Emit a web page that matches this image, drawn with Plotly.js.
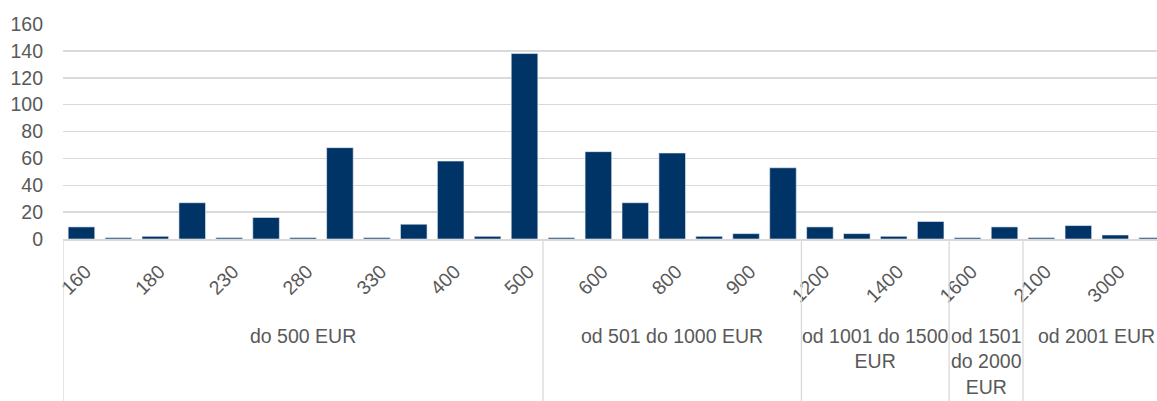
<!DOCTYPE html>
<html>
<head>
<meta charset="utf-8">
<script src="https://cdn.plot.ly/plotly-3.0.1.min.js"></script>
<style>html,body{margin:0;padding:0;background:#fff;}#chart{width:1157px;height:401px;}</style>
</head>
<body>
<div id="chart"></div>
<script>
// Categories (price levels in EUR); only every other label is printed on the axis
const priceLabels = ["160","170","180","200","230","250","280","300","330","350","400","450","500",
                     "550","600","700","800","850","900","1000",
                     "1200","1300","1400","1500",
                     "1600","2000",
                     "2100","2500","3000","5000"];
const counts = [9,1,2,27,1,16,1,68,1,11,58,2,138,
                1,65,27,64,2,4,53,
                9,4,2,13,
                1,9,
                1,10,3,1];
const groupNames = ["do 500 EUR","od 501 do 1000 EUR","od 1001 do 1500<br>EUR","od 1501<br>do 2000<br>EUR","od 2001 EUR"];
const groupSizes = [13,7,4,2,4];
const yTicks = [0,20,40,60,80,100,120,140,160];

const FONT = "Liberation Sans, Arial, sans-serif";
const TXT = "#595959";
const GRID = "#d9d9d9";

const shownTicks = priceLabels.filter((_, i) => i % 2 === 0);

const shapes = [];
const annotations = [];
let start = 0;
const bottomPaper = -162/215;
shapes.push({type:"line", xref:"x", yref:"paper", x0:-0.5, x1:-0.5, y0:0, y1:bottomPaper, line:{color:GRID, width:1.3}});
groupSizes.forEach((n, g) => {
  const end = start + n;
  shapes.push({type:"line", xref:"x", yref:"paper", x0:end-0.5, x1:end-0.5, y0:0, y1:bottomPaper, line:{color:GRID, width:1.3}});
  annotations.push({
    xref:"x", yref:"paper", x:(start+end-1)/2, y:(239-323)/215,
    xanchor:"center", yanchor:"top", showarrow:false,
    text:groupNames[g], font:{family:FONT, size:19.5, color:TXT}, align:"center"
  });
  start = end;
});

const trace = {
  type:"bar",
  x: priceLabels,
  y: counts,
  marker:{color:"#003366", line:{color:"#e8eef5", width:0.6}},
  hoverinfo:"x+y"
};

const layout = {
  width:1157, height:401,
  margin:{l:63, r:0, t:24, b:162},
  paper_bgcolor:"#fff", plot_bgcolor:"#fff",
  bargap:0.28,
  showlegend:false,
  font:{family:FONT, size:19.5, color:TXT},
  xaxis:{
    type:"category",
    range:[-0.5, 29.13],
    tickvals: shownTicks,
    ticktext: shownTicks,
    tickangle:-45,
    ticks:"",
    ticklabelstandoff:12,
    ticklabelshift:4,
    showgrid:false,
    showline:true, linecolor:GRID, linewidth:1.5,
    tickfont:{family:FONT, size:19.5, color:TXT},
    automargin:false
  },
  yaxis:{
    range:[0,160],
    tickvals:yTicks,
    ticktext:yTicks.map(String),
    showgrid:true, gridcolor:GRID, gridwidth:1.5,
    zeroline:false,
    showline:false,
    ticks:"",
    ticklabelstandoff:19,
    tickfont:{family:FONT, size:19.5, color:TXT},
    automargin:false
  },
  shapes:shapes,
  annotations:annotations
};

Plotly.newPlot("chart", [trace], layout, {displayModeBar:false, staticPlot:true});
</script>
</body>
</html>
